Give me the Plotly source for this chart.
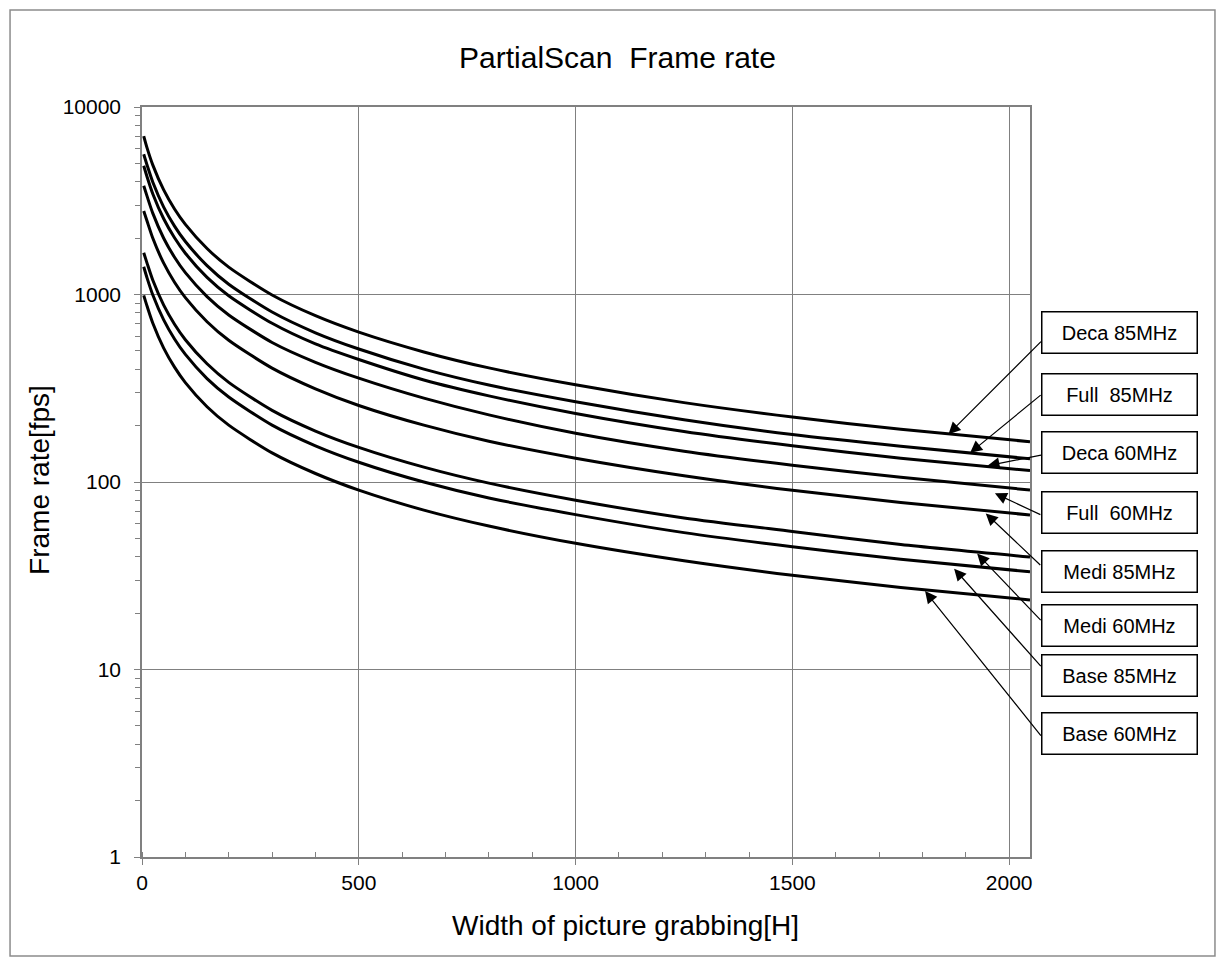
import math

import plotly.graph_objects as go

# width of picture grabbing [H]
width_h = [4, 12, 25, 50, 75, 100, 150, 200, 300, 400, 500, 650, 800, 1000, 1250, 1500, 1750, 2048]

# frame rate [fps]
deca_85 = [7000, 6018, 4900, 3611, 2858, 2366, 1759, 1400, 994, 771, 630, 494, 406, 330, 265, 222, 191, 164]
full_85 = [5600, 4877, 3971, 2926, 2317, 1917, 1426, 1135, 806, 625, 512, 400, 329, 268, 215, 179, 155, 133]
deca_60 = [4860, 4223, 3439, 2534, 2006, 1660, 1234, 985, 702, 545, 450, 350, 288, 232, 186, 156, 134, 115]
full_60 = [3800, 3326, 2709, 1996, 1580, 1308, 975, 778, 555, 435, 358, 280, 228, 182, 146, 123, 106, 90.6]
medi_85 = [2790, 2449, 1994, 1469, 1163, 963, 716, 570, 405, 314, 256, 201, 165, 134, 108, 90.4, 77.8, 66.7]
medi_60 = [1670, 1461, 1190, 877, 694, 574, 427, 340, 241, 187, 153, 120, 98.6, 80, 64.3, 54.5, 46.4, 39.8]
base_85 = [1406, 1219, 993, 732, 579, 479, 356, 284, 201, 156, 127.5, 100, 82.2, 67, 53.7, 45.1, 38.7, 33.2]
base_60 = [990, 863, 703, 518, 410, 339, 252, 201, 143, 111, 90.5, 70.8, 58.2, 47.1, 38, 31.8, 27.4, 23.5]

series = {
    "Deca 85MHz": deca_85,
    "Full  85MHz": full_85,
    "Deca 60MHz": deca_60,
    "Full  60MHz": full_60,
    "Medi 85MHz": medi_85,
    "Medi 60MHz": medi_60,
    "Base 85MHz": base_85,
    "Base 60MHz": base_60,
}

# where each label's arrow points (width, fps)
arrow_w = [1860, 1910, 1950, 1967, 1946, 1926, 1873, 1806]
arrow_fps = [180, 143, 122, 87, 68, 41.5, 34.5, 26.2]

# arrow tail offsets (px) and label box centres (paper)
arrow_ax = [94, 72, 55, 47, 56, 65, 88, 117]
arrow_ay = [-94, -59, -11, 22, 53, 68, 99, 146]
box_y = [0.6987, 0.6173, 0.5387, 0.46, 0.3813, 0.3093, 0.242, 0.1653]

FONT = "Liberation Sans, Arial, sans-serif"
GRID = "#808080"

fig = go.Figure()
for name, vals in series.items():
    fig.add_trace(
        go.Scatter(
            x=width_h,
            y=vals,
            mode="lines",
            name=name,
            line=dict(color="black", width=3, shape="spline", smoothing=0.7),
        )
    )

for i, name in enumerate(series):
    fig.add_annotation(
        x=arrow_w[i],
        y=math.log10(arrow_fps[i]),
        xref="x",
        yref="y",
        text="",
        showarrow=True,
        arrowhead=2,
        arrowsize=2,
        arrowwidth=1.2,
        arrowcolor="black",
        ax=arrow_ax[i],
        ay=arrow_ay[i],
        standoff=0,
    )
    fig.add_annotation(
        x=1.1008,
        y=box_y[i],
        xref="paper",
        yref="paper",
        text=name,
        showarrow=False,
        font=dict(family=FONT, size=20, color="black"),
        bgcolor="white",
        bordercolor="black",
        borderwidth=1.5,
        borderpad=2,
        width=150,
        height=36,
        xanchor="center",
        yanchor="middle",
    )

fig.add_annotation(
    x=0.545, y=-0.0907, xref="paper", yref="paper",
    text="Width of picture grabbing[H]", showarrow=False,
    font=dict(family=FONT, size=28, color="black"),
    xanchor="center", yanchor="middle",
)
fig.add_annotation(
    x=-0.1149, y=0.5027, xref="paper", yref="paper",
    text="Frame rate[fps]", showarrow=False, textangle=-90,
    font=dict(family=FONT, size=28, color="black"),
    xanchor="center", yanchor="middle",
)

# outer chart border
fig.add_shape(
    type="rect", xref="paper", yref="paper",
    x0=-0.1486, x1=1.2083, y0=-0.132, y1=1.1293,
    line=dict(color="#8c8c8c", width=1.5),
)

fig.update_xaxes(
    range=[0, 2048],
    dtick=500,
    tick0=0,
    ticks="outside",
    ticklen=6,
    tickcolor=GRID,
    showgrid=True,
    gridcolor=GRID,
    gridwidth=1,
    showline=True,
    linecolor=GRID,
    linewidth=1.5,
    mirror=True,
    zeroline=False,
    minor=dict(dtick=100, ticks="inside", ticklen=5, tickcolor=GRID, showgrid=False),
    tickfont=dict(family=FONT, size=21, color="black"),
)
fig.update_yaxes(
    type="log",
    range=[0, 4],
    dtick=1,
    tickformat="d",
    ticks="outside",
    ticklen=6,
    ticklabelstandoff=9,
    tickcolor=GRID,
    showgrid=True,
    gridcolor=GRID,
    gridwidth=1,
    showline=True,
    linecolor=GRID,
    linewidth=1.5,
    mirror=True,
    zeroline=False,
    minor=dict(dtick="D1", ticks="outside", ticklen=5, tickcolor=GRID, showgrid=False),
    tickfont=dict(family=FONT, size=21, color="black"),
)

# page body has an 8px margin, so the figure is shrunk by that much
fig.update_layout(
    width=1217,
    height=952,
    margin=dict(l=134, r=195, t=99, b=103),
    paper_bgcolor="white",
    plot_bgcolor="white",
    showlegend=False,
    title=dict(
        text="PartialScan  Frame rate",
        x=0.5008,
        y=0.9485,
        xanchor="center",
        yanchor="middle",
        font=dict(family=FONT, size=30, color="black"),
    ),
)

fig.write_html("out.html")
